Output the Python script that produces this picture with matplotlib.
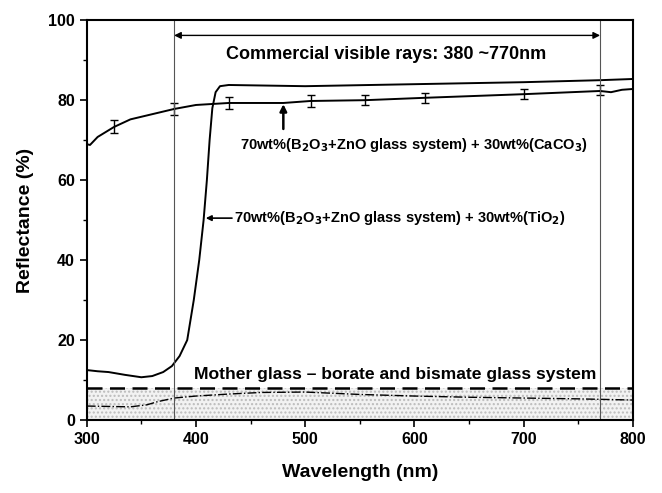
import matplotlib
matplotlib.use("Agg")
import matplotlib.pyplot as plt
import numpy as np
from matplotlib.ticker import MultipleLocator

plt.rcParams['font.family'] = ['Liberation Sans', 'DejaVu Sans']

# CaCO3 curve
caco3_x = [300, 303, 310, 325, 340, 360, 380, 400, 430, 480, 505, 555, 610, 650, 700, 770, 780, 790, 800]
caco3_y = [69.0, 68.8, 70.8, 73.3, 75.2, 76.5, 77.8, 78.8, 79.3, 79.3, 79.8, 80.0, 80.6, 81.0, 81.5, 82.3, 82.0, 82.6, 82.8]
err_x = [325, 380, 430, 505, 555, 610, 700, 770]
err_y = [73.5, 77.8, 79.3, 79.8, 80.0, 80.5, 81.5, 82.5]
err_e = [1.6, 1.5, 1.5, 1.5, 1.3, 1.3, 1.3, 1.3]

# TiO2 curve
tio2_x = [300, 310, 320, 335, 350, 360, 370, 378, 385, 392, 398, 403, 407, 410, 412.5, 415, 418, 422, 430, 500, 600, 700, 770, 800]
tio2_y = [12.5, 12.2, 12.0, 11.3, 10.7, 11.0, 12.0, 13.5, 16.0, 20.0, 30.0, 40.0, 50.0, 60.0, 70.0, 78.0, 82.0, 83.5, 83.8, 83.5, 84.0, 84.5, 85.0, 85.3]

# Mother glass
mg_dash_x = [300, 800]
mg_dash_y = [8.0, 8.0]
mg_dd_x = [300, 320, 340, 355, 365, 380, 400, 430, 460, 500, 550, 600, 650, 700, 750, 800]
mg_dd_y = [3.5, 3.4, 3.3, 3.8, 4.6, 5.5, 6.0, 6.5, 6.9, 7.0, 6.4, 6.0, 5.7, 5.5, 5.3, 5.0]

fig = plt.figure(figsize=(6.62, 4.93), dpi=100)
ax = fig.add_axes([0.131, 0.148, 0.825, 0.811])

ax.fill_between(mg_dash_x, 0, mg_dash_y, facecolor='#f2f2f2', edgecolor='#bbbbbb', hatch='....', linewidth=0)
ax.plot(mg_dash_x, mg_dash_y, color='black', linestyle=(0, (6, 3)), linewidth=1.8)
ax.plot(mg_dd_x, mg_dd_y, color='black', linestyle='-.', linewidth=1.0)

ax.plot(tio2_x, tio2_y, color='black', linewidth=1.4)
ax.plot(caco3_x, caco3_y, color='black', linewidth=1.4)
ax.errorbar(err_x, err_y, yerr=err_e, fmt='none', ecolor='black', capsize=3, elinewidth=1.0, capthick=1.0)

ax.axvline(380, color='#555555', linewidth=0.8)
ax.axvline(770, color='#555555', linewidth=0.8)

ax.annotate('', xy=(380, 96.2), xytext=(770, 96.2),
            arrowprops=dict(arrowstyle='<|-|>', color='black', lw=1.0, mutation_scale=10, shrinkA=0, shrinkB=0))
ax.text(574, 91.3, 'Commercial visible rays: 380 ~770nm', ha='center', va='center', fontsize=13, fontweight='bold')

ax.annotate('', xy=(480, 79.0), xytext=(480, 72.8),
            arrowprops=dict(arrowstyle='-|>', color='black', lw=1.8, mutation_scale=10, shrinkA=0, shrinkB=0))
ax.text(440, 68.8, '70wt%(B$_\\mathbf{2}$O$_\\mathbf{3}$+ZnO glass system) + 30wt%(CaCO$_\\mathbf{3}$)',
        ha='left', va='center', fontsize=10.5, fontweight='bold')

ax.annotate('', xy=(409, 50.5), xytext=(433, 50.5),
            arrowprops=dict(arrowstyle='-|>', color='black', lw=1.2, mutation_scale=8, shrinkA=0, shrinkB=0))
ax.text(435, 50.5, '70wt%(B$_\\mathbf{2}$O$_\\mathbf{3}$+ZnO glass system) + 30wt%(TiO$_\\mathbf{2}$)',
        ha='left', va='center', fontsize=10.5, fontweight='bold')

ax.text(582, 11.5, 'Mother glass \u2013 borate and bismate glass system', ha='center', va='center',
        fontsize=12.6, fontweight='bold')

ax.set_xlim(300, 800)
ax.set_ylim(0, 100)
ax.xaxis.set_major_locator(MultipleLocator(100))
ax.xaxis.set_minor_locator(MultipleLocator(50))
ax.yaxis.set_major_locator(MultipleLocator(20))
ax.yaxis.set_minor_locator(MultipleLocator(10))
ax.tick_params(which='major', direction='out', length=5, width=1.2, labelsize=11.5)
ax.tick_params(which='minor', direction='out', length=3, width=1.0)
for lab in ax.get_xticklabels() + ax.get_yticklabels():
    lab.set_fontweight('bold')
for s in ax.spines.values():
    s.set_linewidth(1.5)

ax.set_xlabel('Wavelength (nm)', fontsize=14, fontweight='bold', labelpad=12)
ax.set_ylabel('Reflectance (%)', fontsize=14, fontweight='bold', labelpad=10)

fig.savefig('out.png', dpi=100)
